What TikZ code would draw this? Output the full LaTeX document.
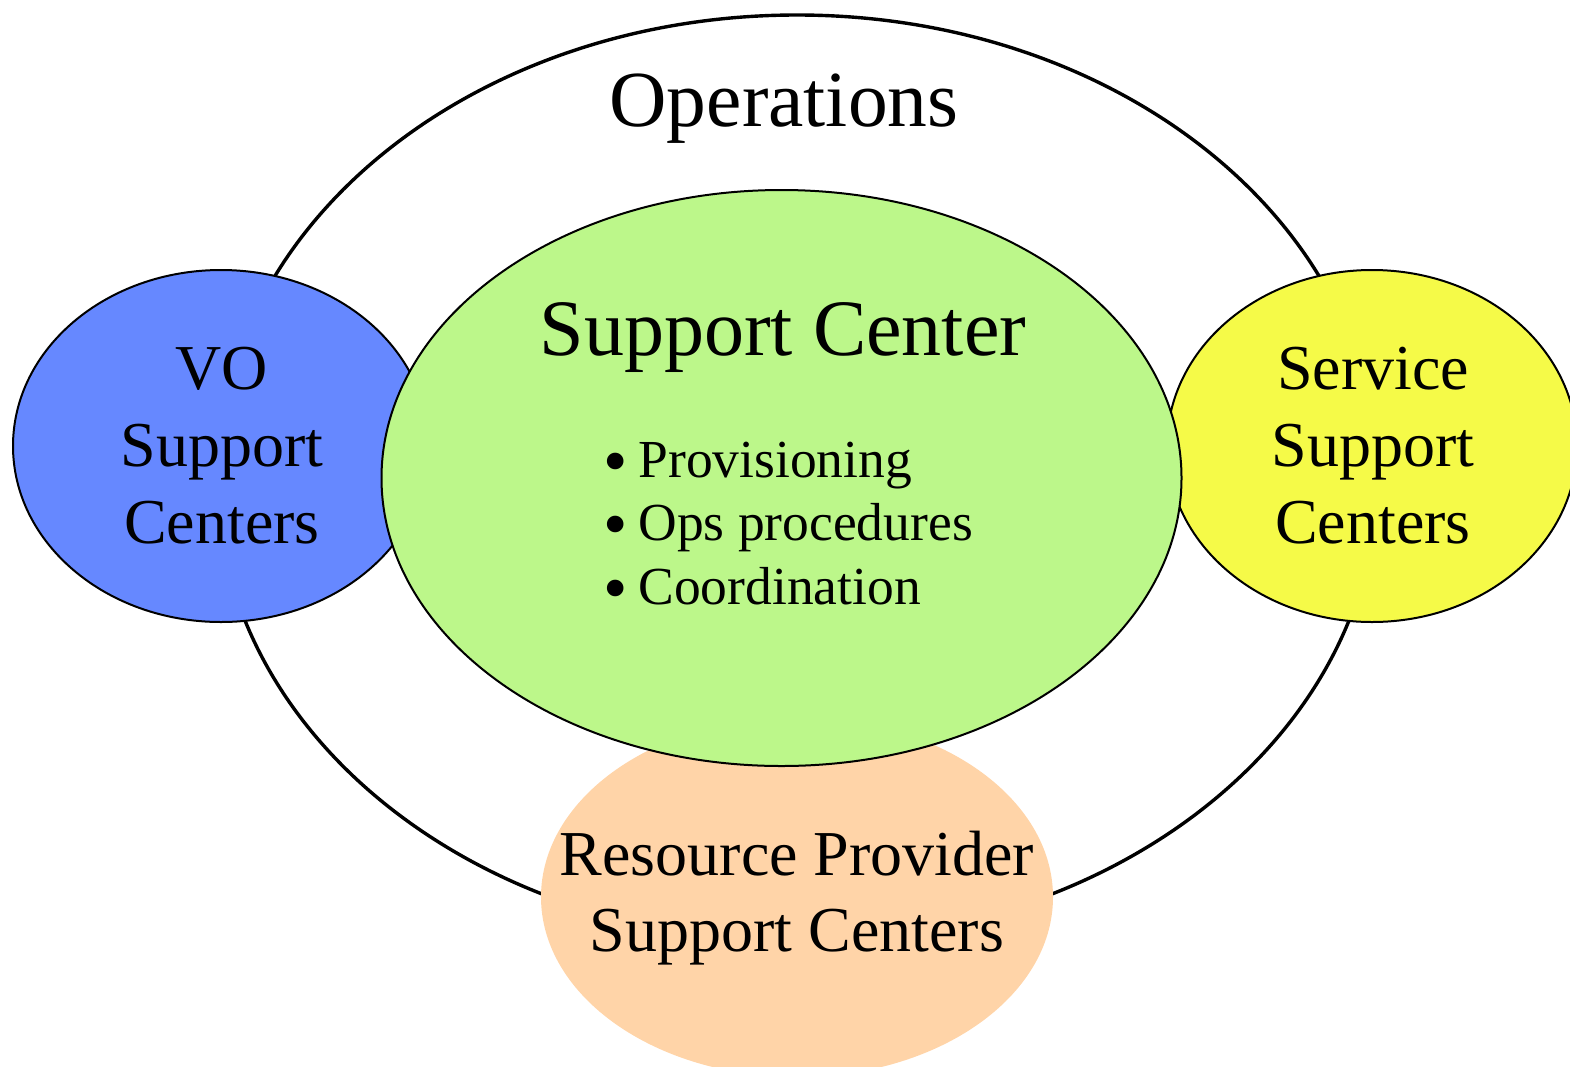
\documentclass[tikz,border=0pt]{standalone}
\usepackage{fontspec}
\usepackage{graphicx}
\setmainfont{Liberation Serif}
\usetikzlibrary{shapes.geometric}
\definecolor{voblue}{RGB}{102,136,255}
\definecolor{scgreen}{RGB}{188,247,138}
\definecolor{svyellow}{RGB}{245,250,72}
\definecolor{rporange}{RGB}{255,212,168}
\newcommand{\bigbul}{\raisebox{-7pt}[0pt][0pt]{\scalebox{1.3}{\textbullet}}\hspace{11pt}}
\tikzset{
  blob/.style={ellipse, inner sep=0pt, outer sep=0pt},
  rim/.style={draw=black, line width=2pt},
  lbl/.style={inner sep=0pt, anchor=base, align=center},
  big/.style={font=\fontsize{64}{77}\selectfont},
  bul/.style={inner sep=0pt, anchor=base west, font=\fontsize{53.5}{64}\selectfont},
}
\begin{document}
\begin{tikzpicture}[x=1pt,y=-1pt]
\useasboundingbox (0,0) rectangle (1570,1066);
% outer operations ellipse
\node[blob, draw=black, line width=3.4pt, minimum width=1160pt, minimum height=926pt] (ops) at (797,478) {};
% side circles
\node[blob, rim, fill=voblue, minimum width=416pt, minimum height=352pt] (vo) at (221,446) {};
\node[blob, rim, fill=svyellow, minimum width=410pt, minimum height=352pt] (svc) at (1372,446) {};
% resource provider
\node[blob, fill=rporange, minimum width=512pt, minimum height=360pt] (rp) at (797,897) {};
% support center
\node[blob, rim, fill=scgreen, minimum width=800pt, minimum height=576pt] (sc) at (781.5,478) {};
% texts
\node[lbl, font=\fontsize{79.5}{95}\selectfont] (opst) at (784,126) {Operations};
\node[lbl, font=\fontsize{80}{96}\selectfont] (sct) at (783,355) {Support Center};
\node[bul] (b1) at (603,477) {\bigbul Provisioning};
\node[bul] (b2) at (603,540) {\bigbul Ops procedures};
\node[bul] (b3) at (603,604) {\bigbul Coordination};
\node[lbl, big] (vot1) at (222,389) {VO};
\node[lbl, big] (vot2) at (222,466) {Support};
\node[lbl, big] (vot3) at (222,543) {Centers};
\node[lbl, big] (svt1) at (1373,389) {Service};
\node[lbl, big] (svt2) at (1373,466) {Support};
\node[lbl, big] (svt3) at (1373,543) {Centers};
\node[lbl, big] (rpt1) at (797,875) {Resource Provider};
\node[lbl, big] (rpt2) at (797,951) {Support Centers};
\end{tikzpicture}
\end{document}
